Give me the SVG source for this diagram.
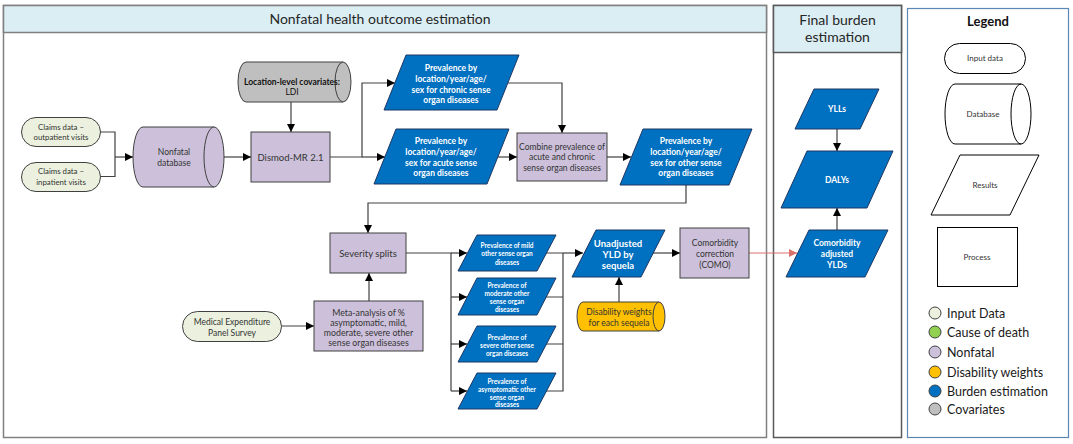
<svg xmlns="http://www.w3.org/2000/svg" width="1073" height="444" viewBox="0 0 1073 444">
<style>
text{font-family:Lato,"Liberation Sans",sans-serif;text-anchor:middle}
.panel{fill:#fff;stroke:#808080;stroke-width:1.5}
.hdr{fill:#DBEEF4;stroke:#808080;stroke-width:1.5}
.ttl{font-size:14px;fill:#262626}
.inp{fill:#EBF1DE;stroke:#404040;stroke-width:1}
.nf{fill:#CCC0DA;stroke:#404040;stroke-width:1}
.bl{fill:#0070C0;stroke:#1F3864;stroke-width:1}
.cov{fill:#BFBFBF;stroke:#404040;stroke-width:1}
.dw{fill:#FFC000;stroke:#404040;stroke-width:1}
.lg{fill:#fff;stroke:#000;stroke-width:1}
.w{fill:#fff;font-weight:bold}
.d{fill:#333}
.c{fill:none;stroke:#404040;stroke-width:1.2}
.ca{fill:none;stroke:#404040;stroke-width:1.2;marker-end:url(#ah)}
.red{fill:none;stroke:#D9706A;stroke-width:1.2;marker-end:url(#ahr)}
.li{font-size:12.5px;fill:#1a1a1a;text-anchor:start}
.dot{stroke:#404040;stroke-width:1}
</style>
<defs>
<marker id="ah" markerUnits="userSpaceOnUse" markerWidth="9" markerHeight="8" refX="8" refY="4" orient="auto"><path d="M0,0 L8,4 L0,8 z" fill="#000"/></marker>
<marker id="ahr" markerUnits="userSpaceOnUse" markerWidth="9" markerHeight="8" refX="8" refY="4" orient="auto"><path d="M0,0 L8,4 L0,8 z" fill="#D9706A"/></marker>
</defs>

<g id="panel-nonfatal">
<rect class="panel" x="3.5" y="5.5" width="763" height="432"/>
<rect class="hdr" x="3.5" y="5.5" width="763" height="27"/>
<text class="ttl" x="380" y="24">Nonfatal health outcome estimation</text>
</g>
<g id="panel-final">
<rect class="panel" x="773.5" y="5.5" width="128" height="432" style="stroke:#595959"/>
<rect class="hdr" x="773.5" y="5.5" width="128" height="47" style="stroke:#595959"/>
<text class="ttl" x="837.5" y="25">Final burden</text>
<text class="ttl" x="837.5" y="42">estimation</text>
</g>

<g id="legend">
<rect x="907.5" y="8.5" width="161" height="429" fill="#fff" stroke="#5B87B5" stroke-width="1.2"/>
<text x="988" y="26" style="font-size:13px;font-weight:bold;fill:#111">Legend</text>
<rect class="lg" x="944.5" y="43.5" width="81" height="30" rx="15"/>
<text x="985" y="61" style="font-size:8px" class="d">Input data</text>
<path class="lg" d="M955,84 H1021 A10,30 0 0 1 1021,144 H955 A10,30 0 0 1 955,84 Z M1021,84 A10,30 0 0 0 1021,144"/>
<text x="983" y="117" style="font-size:8px" class="d">Database</text>
<polygon class="lg" points="960,155 1039,155 1010,215 931,215"/>
<text x="985" y="188" style="font-size:8px" class="d">Results</text>
<rect class="lg" x="937.5" y="227.5" width="80" height="59"/>
<text x="977" y="260" style="font-size:8px" class="d">Process</text>
<circle class="dot" cx="935" cy="313" r="6" fill="#EBF1DE"/><text class="li" x="947" y="317.5">Input Data</text>
<circle class="dot" cx="935" cy="332" r="6" fill="#92D050"/><text class="li" x="947" y="336.5">Cause of death</text>
<circle class="dot" cx="935" cy="352" r="6" fill="#CCC0DA"/><text class="li" x="947" y="356.5">Nonfatal</text>
<circle class="dot" cx="935" cy="372" r="6" fill="#FFC000"/><text class="li" x="947" y="376.5">Disability weights</text>
<circle class="dot" cx="935" cy="391" r="6" fill="#0070C0"/><text class="li" x="947" y="395.5">Burden estimation</text>
<circle class="dot" cx="935" cy="409" r="6" fill="#BFBFBF"/><text class="li" x="947" y="413.5">Covariates</text>
</g>

<g id="connectors">
<path class="c" d="M100.5,132 H115 V176.5 H100.5"/>
<path class="ca" d="M115,157 H133"/>
<path class="ca" d="M224,157 H251"/>
<path class="ca" d="M291,102 V132"/>
<path class="ca" d="M330,157 H362 V83 H395"/>
<path class="ca" d="M362,157 H385"/>
<path class="ca" d="M508,83 H562 V133"/>
<path class="ca" d="M498,157 H517"/>
<path class="ca" d="M607,157 H631"/>
<path class="ca" d="M686,185 V203 H368 V233"/>
<path class="ca" d="M369,301 V273"/>
<path class="ca" d="M281,326 H314"/>
<path class="c" d="M406,253 H451 V391"/>
<path class="ca" d="M451,253 H467"/>
<path class="ca" d="M451,297 H467"/>
<path class="ca" d="M451,344 H467"/>
<path class="ca" d="M451,391 H467"/>
<path class="c" d="M546,253 H563 M546,297 H563 M546,344 H563 M546,391 H563 V253"/>
<path class="ca" d="M563,253 H583"/>
<path class="ca" d="M619,302 V277"/>
<path class="ca" d="M653,253 H680"/>
<path class="red" d="M749,253 H797"/>
<path class="ca" d="M837,129 V151"/>
<path class="ca" d="M837,230 V208"/>
</g>

<g id="claims-outpatient">
<rect class="inp" x="21.5" y="117.5" width="79" height="29" rx="14.5"/>
<text class="d" x="61" y="129.5" style="font-size:7.8px">Claims data –</text>
<text class="d" x="61" y="140" style="font-size:7.8px">outpatient visits</text>
</g>
<g id="claims-inpatient">
<rect class="inp" x="21.5" y="162.5" width="79" height="29" rx="14.5"/>
<text class="d" x="61" y="174" style="font-size:7.8px">Claims data –</text>
<text class="d" x="61" y="184.5" style="font-size:7.8px">inpatient visits</text>
</g>
<g id="nonfatal-database">
<path class="nf" d="M143,127 H214 A10,30 0 0 1 214,187 H143 A10,30 0 0 1 143,127 Z"/>
<path class="nf" d="M214,127 A10,30 0 0 0 214,187" fill="none"/>
<text class="d" x="174" y="155" style="font-size:8.5px">Nonfatal</text>
<text class="d" x="174" y="166" style="font-size:8.5px">database</text>
</g>
<g id="covariates">
<path class="cov" d="M246,62 H343 A8,20 0 0 1 343,102 H246 A8,20 0 0 1 246,62 Z"/>
<path class="cov" d="M343,62 A8,20 0 0 0 343,102" fill="none"/>
<text x="292" y="85" style="font-size:8.5px;font-weight:bold;fill:#111">Location-level covariates:</text>
<text x="292" y="95" style="font-size:8.5px;fill:#111">LDI</text>
</g>
<g id="dismod">
<rect class="nf" x="251" y="132" width="79" height="50"/>
<text class="d" x="290.5" y="160.5" style="font-size:9.5px">Dismod-MR 2.1</text>
</g>
<g id="prev-chronic">
<polygon class="bl" points="406,55 519,55 497,110 384,110"/>
<text class="w" style="font-size:8.5px" x="451" y="71">Prevalence by</text>
<text class="w" style="font-size:8.5px" x="451" y="82">location/year/age/</text>
<text class="w" style="font-size:8.5px" x="451" y="92.5">sex for chronic sense</text>
<text class="w" style="font-size:8.5px" x="451" y="103">organ diseases</text>
</g>
<g id="prev-acute">
<polygon class="bl" points="396,129 509,129 487,184 374,184"/>
<text class="w" style="font-size:8.5px" x="441" y="144">Prevalence by</text>
<text class="w" style="font-size:8.5px" x="441" y="155">location/year/age/</text>
<text class="w" style="font-size:8.5px" x="441" y="165.5">sex for acute sense</text>
<text class="w" style="font-size:8.5px" x="441" y="176">organ diseases</text>
</g>
<g id="combine">
<rect class="nf" x="517" y="133" width="90" height="48"/>
<text class="d" x="562" y="150" style="font-size:8.5px">Combine prevalence of</text>
<text class="d" x="562" y="160" style="font-size:8.5px">acute and chronic</text>
<text class="d" x="562" y="171" style="font-size:8.5px">sense organ diseases</text>
</g>
<g id="prev-other">
<polygon class="bl" points="643,129 752,129 729,185 620,185"/>
<text class="w" style="font-size:8.5px" x="686" y="144">Prevalence by</text>
<text class="w" style="font-size:8.5px" x="686" y="155">location/year/age/</text>
<text class="w" style="font-size:8.5px" x="686" y="165.5">sex for other sense</text>
<text class="w" style="font-size:8.5px" x="686" y="176">organ diseases</text>
</g>
<g id="severity-splits">
<rect class="nf" x="330" y="233" width="76" height="40"/>
<text class="d" x="368" y="256.5" style="font-size:9.5px">Severity splits</text>
</g>
<g id="meta-analysis">
<rect class="nf" x="314" y="301" width="109" height="50"/>
<text class="d" x="368.5" y="315.5" style="font-size:8.8px">Meta-analysis of %</text>
<text class="d" x="368.5" y="325.5" style="font-size:8.8px">asymptomatic, mild,</text>
<text class="d" x="368.5" y="335.5" style="font-size:8.8px">moderate, severe other</text>
<text class="d" x="368.5" y="345.5" style="font-size:8.8px">sense organ diseases</text>
</g>
<g id="meps">
<rect class="inp" x="182.5" y="311.5" width="99" height="30" rx="15"/>
<text class="d" x="232" y="324.5" style="font-size:8.5px">Medical Expenditure</text>
<text class="d" x="232" y="335.5" style="font-size:8.5px">Panel Survey</text>
</g>
<g id="prev-mild">
<polygon class="bl" points="477,235 556,235 537,271 458,271"/>
<text class="w" style="font-size:6.5px" x="507" y="247.5">Prevalence of mild</text>
<text class="w" style="font-size:6.5px" x="507" y="256">other sense organ</text>
<text class="w" style="font-size:6.5px" x="507" y="264.5">diseases</text>
</g>
<g id="prev-moderate">
<polygon class="bl" points="477,278 556,278 537,315 458,315"/>
<text class="w" style="font-size:6.5px" x="507" y="287.5">Prevalence of</text>
<text class="w" style="font-size:6.5px" x="507" y="295.5">moderate other</text>
<text class="w" style="font-size:6.5px" x="507" y="303.5">sense organ</text>
<text class="w" style="font-size:6.5px" x="507" y="311.5">diseases</text>
</g>
<g id="prev-severe">
<polygon class="bl" points="477,326 556,326 537,362 458,362"/>
<text class="w" style="font-size:6.5px" x="507" y="339.5">Prevalence of</text>
<text class="w" style="font-size:6.5px" x="507" y="347.5">severe other sense</text>
<text class="w" style="font-size:6.5px" x="507" y="355.5">organ diseases</text>
</g>
<g id="prev-asymptomatic">
<polygon class="bl" points="477,373 556,373 537,409 458,409"/>
<text class="w" style="font-size:6.5px" x="507" y="383.5">Prevalence of</text>
<text class="w" style="font-size:6.5px" x="507" y="391.5">asymptomatic other</text>
<text class="w" style="font-size:6.5px" x="507" y="399.5">sense organ</text>
<text class="w" style="font-size:6.5px" x="507" y="407">diseases</text>
</g>
<g id="unadjusted-yld">
<polygon class="bl" points="596,230 665,230 641,277 572,277"/>
<text class="w" style="font-size:9.5px" x="618" y="246.5">Unadjusted</text>
<text class="w" style="font-size:9.5px" x="618" y="257.5">YLD by</text>
<text class="w" style="font-size:9.5px" x="618" y="268.5">sequela</text>
</g>
<g id="disability-weights">
<path class="dw" d="M583,302 H659 A6,14.5 0 0 1 659,331 H583 A6,14.5 0 0 1 583,302 Z"/>
<path class="dw" d="M659,302 A6,14.5 0 0 0 659,331" fill="none"/>
<text class="d" x="619" y="315" style="font-size:8.5px">Disability weights</text>
<text class="d" x="619" y="325.5" style="font-size:8.5px">for each sequela</text>
</g>
<g id="como">
<rect class="nf" x="680" y="228" width="69" height="50"/>
<text class="d" x="715" y="246" style="font-size:8.5px">Comorbidity</text>
<text class="d" x="715" y="257" style="font-size:8.5px">correction</text>
<text class="d" x="715" y="267.5" style="font-size:8.5px">(COMO)</text>
</g>
<g id="ylls">
<polygon class="bl" points="814,89 879,89 860,129 795,129"/>
<text class="w" style="font-size:8.5px" x="837" y="112">YLLs</text>
</g>
<g id="dalys">
<polygon class="bl" points="807,151 893,151 867,208 781,208"/>
<text class="w" style="font-size:8.5px" x="837" y="183">DALYs</text>
</g>
<g id="adjusted-ylds">
<polygon class="bl" points="809,230 888,230 865,277 786,277"/>
<text class="w" style="font-size:8.5px" x="837" y="246">Comorbidity</text>
<text class="w" style="font-size:8.5px" x="837" y="257">adjusted</text>
<text class="w" style="font-size:8.5px" x="837" y="267.5">YLDs</text>
</g>
</svg>
